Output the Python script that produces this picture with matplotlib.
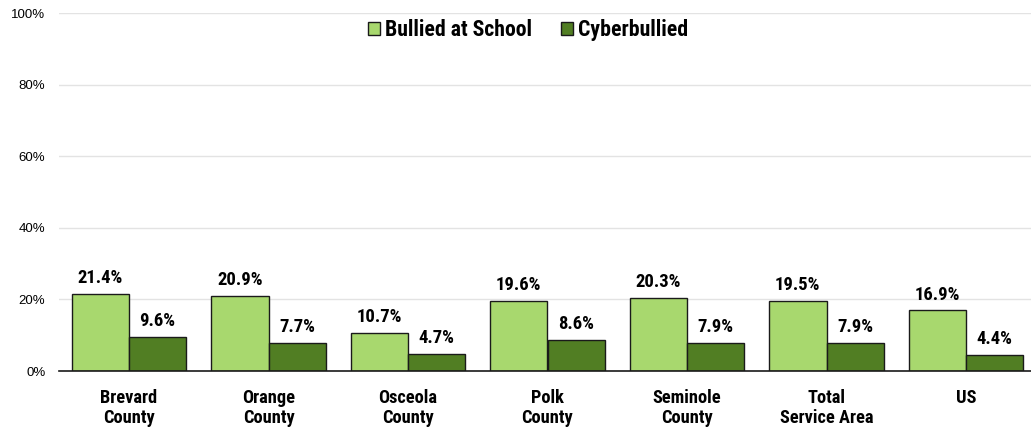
import matplotlib
matplotlib.use("Agg")
import matplotlib.pyplot as plt
import numpy as np
from matplotlib.patches import Patch

categories = ["Brevard\nCounty", "Orange\nCounty", "Osceola\nCounty", "Polk\nCounty",
              "Seminole\nCounty", "Total\nService Area", "US"]
bullied_school = [21.4, 20.9, 10.7, 19.6, 20.3, 19.5, 16.9]
cyberbullied = [9.6, 7.7, 4.7, 8.6, 7.9, 7.9, 4.4]
series_names = ["Bullied at School", "Cyberbullied"]
yticks = [0, 20, 40, 60, 80, 100]

light = "#A8D86E"
dark = "#517E23"
narrow = ["Roboto Condensed", "DejaVu Sans"]

fig = plt.figure(figsize=(10.31, 4.32), dpi=100)
W, H = 1031, 432
left, right = 59.25, 1031
top, bottom = 13, 371
ax = fig.add_axes([left / W, 1 - bottom / H, (right - left) / W, (bottom - top) / H])

x = np.arange(len(categories))
bw = 57.3 / 139.5
b1 = ax.bar(x - bw / 2, bullied_school, bw, color=light, edgecolor="#1a1a1a", linewidth=1.0, zorder=3)
b2 = ax.bar(x + bw / 2, cyberbullied, bw, color=dark, edgecolor="#1a1a1a", linewidth=1.0, zorder=3)

for bars, vals in ((b1, bullied_school), (b2, cyberbullied)):
    for r, v in zip(bars, vals):
        ax.annotate(f"{v:.1f}%", (r.get_x() + r.get_width() / 2, v),
                    xytext=(0, 5), textcoords="offset points", ha="center", va="bottom",
                    fontsize=13.4, fontweight="bold", family=narrow)

ax.set_xlim(-0.5, 6.5 - 4.75 / 139.5)
ax.set_ylim(0, 100)
ax.set_yticks(yticks)
ax.set_yticklabels([f"{t}%" for t in yticks], fontsize=9.5, family=["Liberation Sans", "DejaVu Sans"])
ax.set_xticks(x)
ax.set_xticklabels(categories, fontsize=13.2, fontweight="bold", family=narrow, linespacing=1.15)
ax.tick_params(axis="y", length=0, pad=10)
ax.tick_params(axis="x", length=0, pad=13)
ax.grid(axis="y", color="#e3e3e3", linewidth=1.0, zorder=0)
for s in ("top", "right", "left"):
    ax.spines[s].set_visible(False)
ax.spines["bottom"].set_color("#1a1a1a")
ax.spines["bottom"].set_linewidth(1.2)
ax.spines["bottom"].set_zorder(4)

handles = [Patch(facecolor=light, edgecolor="#1a1a1a", linewidth=1.0),
           Patch(facecolor=dark, edgecolor="#1a1a1a", linewidth=1.0)]
fig.legend(handles, series_names, loc="center", bbox_to_anchor=(528 / W, 1 - 30 / H),
           ncol=2, frameon=False, prop={"family": narrow, "weight": "bold", "size": 15.7},
           handlelength=0.55, handleheight=0.55, handletextpad=0.25, columnspacing=1.3)

fig.savefig("out.png", dpi=100)
